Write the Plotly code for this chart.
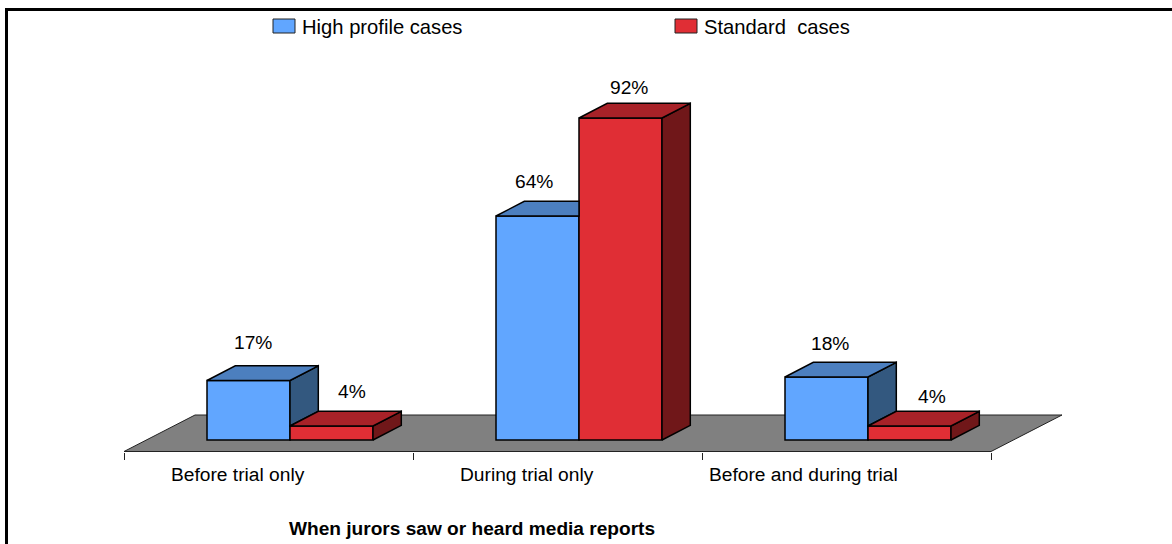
import plotly.graph_objects as go

categories = ["Before trial only", "During trial only", "Before and during trial"]
high_profile = [17, 64, 18]
standard = [4, 92, 4]
series_names = ["High profile cases", "Standard  cases"]
x_title = "When jurors saw or heard media reports"

W, H = 1172, 544
PX_PER_CAT = 289.0
PX_PER_PCT = 3.5
X0_PX = 290.0
Y0_PX = 440.0
BAR_W = 83 / PX_PER_CAT
DX = 28.3 / PX_PER_CAT
DV = 14.7 / PX_PER_PCT
FONT = "Liberation Sans"
BLUE = dict(front="#61A6FF", top="#4C7FBF", side="#33587F")
RED = dict(front="#E02E35", top="#A82228", side="#701719")
EDGE = "#000000"


def xu(px):
    return (px - X0_PX) / PX_PER_CAT


def yu(px):
    return (Y0_PX - px) / PX_PER_PCT


def face(xs, ys, color):
    return go.Scatter(x=xs, y=ys, mode="lines", fill="toself", fillcolor=color,
                      line=dict(color=EDGE, width=1.5), hoverinfo="skip",
                      showlegend=False, cliponaxis=False)


xs = list(range(len(categories)))
fig = go.Figure()
fig.add_bar(x=xs, y=high_profile, name=series_names[0], showlegend=False,
            marker=dict(color=BLUE["front"], line=dict(color=EDGE, width=1.5)))
fig.add_bar(x=xs, y=standard, name=series_names[1], showlegend=False,
            marker=dict(color=RED["front"], line=dict(color=EDGE, width=1.5)))

# Depth faces of the high-profile bars (hidden parts behind the neighbour are cut off)
for i, (a, b) in enumerate(zip(high_profile, standard)):
    l, r = i - BAR_W, i
    if a > b:
        fig.add_trace(face([r, r + DX, r + DX, r, r],
                           [a, a + DV, b + DV, b, a], BLUE["side"]))
        fig.add_trace(face([l, l + DX, r + DX, r, l],
                           [a, a + DV, a + DV, a, a], BLUE["top"]))
    else:
        fig.add_trace(face([l, l + DX, r, r, l],
                           [a, a + DV, a + DV, a, a], BLUE["top"]))
# Depth faces of the standard bars
for i, b in enumerate(standard):
    l, r = i, i + BAR_W
    fig.add_trace(face([r, r + DX, r + DX, r, r],
                       [0, DV, b + DV, b, 0], RED["side"]))
    fig.add_trace(face([l, l + DX, r + DX, r, l],
                       [b, b + DV, b + DV, b, b], RED["top"]))

# Floor
fl, fr = xu(124), xu(991)
fdx = 71 / PX_PER_CAT
fy0, fy1 = yu(451.5), yu(415)
floor_path = f"M{fl},{fy0} L{fl + fdx},{fy1} L{fr + fdx},{fy1} L{fr},{fy0} Z"
shapes = [dict(type="path", path=floor_path, xref="x", yref="y", layer="below",
               fillcolor="#808080", line=dict(color="#222222", width=1))]


def pxx(p):
    return p / W


def pxy(p):
    return 1 - p / H


# Page frame
shapes += [
    dict(type="line", xref="paper", yref="paper", x0=pxx(5), x1=1, y0=pxy(9.5), y1=pxy(9.5),
         line=dict(color="#000000", width=3)),
    dict(type="line", xref="paper", yref="paper", x0=pxx(6.5), x1=pxx(6.5), y0=pxy(8), y1=0,
         line=dict(color="#000000", width=3)),
]

annotations = []


def txt(x, y, s, size=19.2, bold=False, xanchor="center", **kw):
    annotations.append(dict(x=x, y=y, text=f"<b>{s}</b>" if bold else s, showarrow=False,
                            font=dict(family=FONT, size=size, color="#000000"),
                            xanchor=xanchor, yanchor="middle", **kw))


# Legend
legend_px = [273, 675]
for lx, name, col in zip(legend_px, series_names, [BLUE, RED]):
    shapes.append(dict(type="rect", xref="paper", yref="paper", x0=pxx(lx), x1=pxx(lx + 22),
                       y0=pxy(33), y1=pxy(19), fillcolor=col["front"],
                       line=dict(color="#222222", width=1)))
    txt(pxx(lx + 27), pxy(27), name.replace("  ", "&nbsp; "), size=20.2, xanchor="left",
        xref="paper", yref="paper")

# Value labels
label_dx = [4, 20, -4, 8, 3, 22]
label_dy = [-38.5, -35, -35, -31, -34, -30]
k = 0
for i, (a, b) in enumerate(zip(high_profile, standard)):
    for v, cx in ((a, i - BAR_W / 2), (b, i + BAR_W / 2)):
        txt(cx, v, f"{v}%", xshift=label_dx[k], yshift=-label_dy[k], xref="x", yref="y")
        k += 1

# Category labels and axis title
cat_px = [237.5, 527, 803]
for cp, c in zip(cat_px, categories):
    txt(pxx(cp), pxy(474), c, xref="paper", yref="paper")
txt(pxx(472.5), pxy(528), x_title, size=19.1, bold=True, xref="paper", yref="paper")

fig.update_layout(
    width=W, height=H, margin=dict(l=0, r=0, t=0, b=0),
    paper_bgcolor="white", plot_bgcolor="white",
    barmode="group", bargap=1 - 2 * BAR_W, bargroupgap=0,
    showlegend=False, shapes=shapes, annotations=annotations,
    font=dict(family=FONT, color="#000000"),
    xaxis=dict(range=[xu(0), xu(W)], showgrid=False, zeroline=False, showline=False,
               tickmode="array", tickvals=[xu(124), xu(413), xu(702), xu(991)],
               ticktext=["", "", "", ""], ticks="outside", ticklen=7, tickwidth=1,
               tickcolor="#222222", anchor="free", position=(H - 451.5) / H, fixedrange=True),
    yaxis=dict(range=[yu(H), yu(0)], visible=False, fixedrange=True),
)

fig.write_html("out.html", config={"displayModeBar": False},
               post_script="document.body.style.margin='0';document.body.style.overflow='hidden';")
